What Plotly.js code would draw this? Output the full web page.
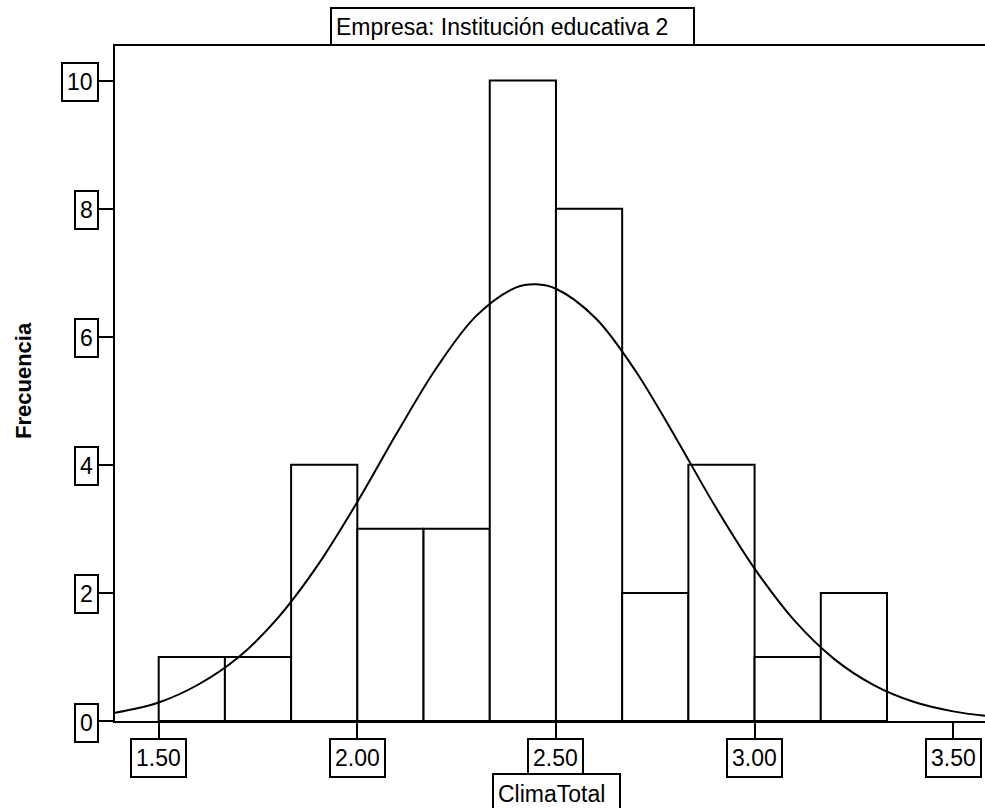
<!DOCTYPE html>
<html>
<head>
<meta charset="utf-8">
<script src="https://cdn.plot.ly/plotly-3.0.1.min.js"></script>
<style>html,body{margin:0;padding:0;background:#fff;}#chart{width:985px;height:808px;}</style>
</head>
<body>
<div id="chart"></div>
<script>
// ---- data ----
const chartTitle = "Empresa: Institución educativa 2";
const xTitle = "ClimaTotal";
const yTitle = "Frecuencia";
const binStart = 1.5;
const binWidth = 1 / 6;
const binCounts = [1, 1, 4, 3, 3, 10, 8, 2, 4, 1, 2];
const curveX = [1.39, 1.5, 1.6, 1.7, 1.8, 1.9, 2.0, 2.1, 2.2, 2.3, 2.4, 2.45, 2.5, 2.6, 2.7, 2.8, 2.9, 3.0, 3.1, 3.2, 3.3, 3.4, 3.5, 3.58];
const curveY = [0.13, 0.29, 0.57, 0.99, 1.61, 2.43, 3.42, 4.50, 5.52, 6.33, 6.77, 6.82, 6.75, 6.29, 5.47, 4.44, 3.36, 2.38, 1.57, 0.97, 0.56, 0.30, 0.15, 0.08];
const xTickVals = [1.5, 2.0, 2.5, 3.0, 3.5];
const xTickText = ["1.50", "2.00", "2.50", "3.00", "3.50"];
const yTickVals = [0, 2, 4, 6, 8, 10];
const yTickText = ["0", "2", "4", "6", "8", "10"];

// ---- build ----
const FONT = "Arial, 'Liberation Sans', sans-serif";
const binCenters = binCounts.map((c, i) => binStart + binWidth * (i + 0.5));

const bars = {
  type: "bar",
  x: binCenters,
  y: binCounts,
  width: binCounts.map(() => binWidth),
  marker: { color: "#ffffff", line: { color: "#000000", width: 2 } },
  hoverinfo: "skip",
  showlegend: false
};
const curve = {
  type: "scatter",
  mode: "lines",
  x: curveX,
  y: curveY,
  line: { color: "#000000", width: 2, shape: "spline", smoothing: 1 },
  hoverinfo: "skip",
  showlegend: false
};

const boxStyle = {
  showarrow: false,
  bgcolor: "#ffffff",
  bordercolor: "#000000",
  borderwidth: 2,
  borderpad: 4,
  font: { family: FONT, size: 23, color: "#000000" }
};

const annotations = [];
xTickVals.forEach((v, i) => {
  annotations.push(Object.assign({}, boxStyle, {
    xref: "x", yref: "paper", x: v, y: 0,
    xanchor: "center", yanchor: "top", yshift: -17,
    height: 28, text: xTickText[i]
  }));
});
yTickVals.forEach((v, i) => {
  annotations.push(Object.assign({}, boxStyle, {
    xref: "paper", yref: "y", x: 0, y: v,
    xanchor: "right", yanchor: "middle", xshift: -16, yshift: -1.5,
    height: 28, text: yTickText[i]
  }));
});
// chart title (boxed)
annotations.push(Object.assign({}, boxStyle, {
  xref: "paper", yref: "paper", x: 0, y: 1,
  xanchor: "left", yanchor: "bottom", xshift: 215, yshift: 0,
  width: 353, height: 27, align: "left", text: chartTitle,
  font: { family: FONT, size: 23, color: "#000000" }
}));
// x title (boxed)
annotations.push(Object.assign({}, boxStyle, {
  xref: "paper", yref: "paper", x: 0, y: 0,
  xanchor: "left", yanchor: "top", xshift: 377, yshift: -52,
  width: 117, height: 30, align: "left", text: xTitle
}));
// y title
annotations.push({
  xref: "paper", yref: "paper", x: 0, y: 0.5037,
  xanchor: "center", yanchor: "middle", xshift: -92,
  textangle: -90, showarrow: false, text: "<b>" + yTitle + "</b>",
  font: { family: FONT, size: 22, color: "#000000" }
});

const layout = {
  width: 985, height: 808,
  margin: { l: 115, r: 0, t: 46, b: 87, pad: 0 },
  paper_bgcolor: "#ffffff", plot_bgcolor: "#ffffff",
  bargap: 0,
  showlegend: false,
  hovermode: false,
  xaxis: {
    range: [1.39, 3.58],
    tickvals: xTickVals, showticklabels: false,
    ticks: "outside", ticklen: 16, tickwidth: 2, tickcolor: "#000000",
    showline: true, linecolor: "#000000", linewidth: 2, mirror: true,
    showgrid: false, zeroline: false
  },
  yaxis: {
    range: [0, 10.54],
    tickvals: yTickVals, showticklabels: false,
    ticks: "outside", ticklen: 16, tickwidth: 2, tickcolor: "#000000",
    showline: true, linecolor: "#000000", linewidth: 2, mirror: false,
    showgrid: false, zeroline: false
  },
  annotations: annotations
};

Plotly.newPlot("chart", [bars, curve], layout, { displayModeBar: false, staticPlot: true });
</script>
</body>
</html>
